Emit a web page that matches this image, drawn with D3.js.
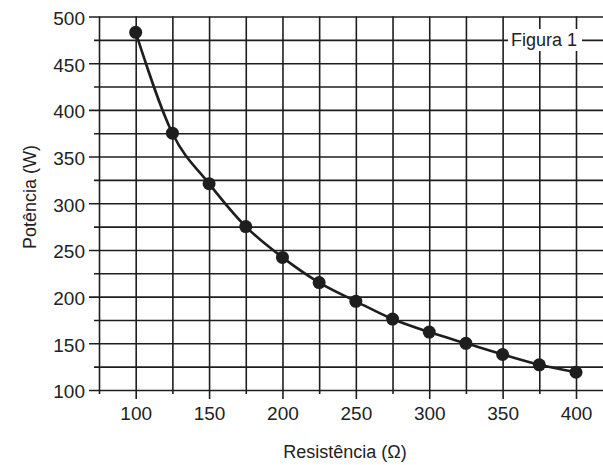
<!DOCTYPE html>
<html>
<head>
<meta charset="utf-8">
<script src="https://cdn.jsdelivr.net/npm/d3@7"></script>
<style>
  body { margin: 0; background: #fff; }
  text { font-family: "Liberation Sans", Arial, sans-serif; fill: #222; }
</style>
</head>
<body>
<div id="chart"></div>
<script>
(() => {

  // values
  let resistencia = [100, 125, 150, 175, 200, 225, 250, 275, 300, 325, 350, 375, 400]
  let potencia = [483, 375, 321, 275, 242, 215, 195, 176, 162, 150, 138, 127, 119]

  let xGrid = [75, 100, 125, 150, 175, 200, 225, 250, 275, 300, 325, 350, 375, 400]
  let xLabels = [100, 150, 200, 250, 300, 350, 400]
  let yGrid = [100, 125, 150, 175, 200, 225, 250, 275, 300, 325, 350, 375, 400, 425, 450, 475, 500]
  let yLabels = [100, 150, 200, 250, 300, 350, 400, 450, 500]

  let W = 603, H = 465
  let ink = "#1e1e1e"

  let svg = d3.select("#chart")
  .append("svg")
  .attr("width", W)
  .attr("height", H)

  let x = d3.scaleLinear()
  .domain([75, 400])
  .range([99, 576])

  let y = d3.scaleLinear()
  .domain([100, 500])
  .range([390, 16.5])

  // horizontal grid + left ticks
  let y_axis = svg.append("g")
  .attr("transform", "translate(" + x(75) + ",0)")
  .call(d3.axisLeft(y)
    .tickValues(yGrid)
    .tickSize(0)
    .tickPadding(14)
    .tickFormat(d => yLabels.includes(d) ? d : ""))

  y_axis.select(".domain").remove()
  y_axis.selectAll(".tick line")
  .attr("x1", d => yLabels.includes(d) ? -10 : -5)
  .attr("x2", W - x(75))
  .attr("stroke", ink)
  .attr("stroke-width", 1.6)
  y_axis.selectAll(".tick text")
  .attr("dy", "0.42em")
  .style("font-size", "19px")
  .style("fill", "#222")

  // vertical grid + bottom ticks
  let x_axis = svg.append("g")
  .attr("transform", "translate(0," + y(100) + ")")
  .call(d3.axisBottom(x)
    .tickValues(xGrid)
    .tickSize(0)
    .tickPadding(17)
    .tickFormat(d => xLabels.includes(d) ? d : ""))

  x_axis.select(".domain").remove()
  x_axis.selectAll(".tick line")
  .attr("y1", -(y(100) - y(500)))
  .attr("y2", d => xLabels.includes(d) ? 9 : 4)
  .attr("stroke", ink)
  .attr("stroke-width", 1.6)
  x_axis.selectAll(".tick text")
  .style("font-size", "19px")
  .style("fill", "#222")

  // "Figura 1" tag sitting on the grid
  svg.append("rect")
  .attr("x", 508)
  .attr("y", 29)
  .attr("width", 74)
  .attr("height", 22)
  .attr("fill", "#fff")

  svg.append("text")
  .attr("x", 511)
  .attr("y", 46)
  .style("font-size", "18px")
  .text("Figura 1")

  // curve
  let line = d3.line()
  .x((d, i) => x(resistencia[i]))
  .y(d => y(d))
  .curve(d3.curveMonotoneX)

  svg.append("path")
  .datum(potencia)
  .attr("d", line)
  .attr("fill", "none")
  .attr("stroke", ink)
  .attr("stroke-width", 2.6)

  svg.selectAll(".ponto")
  .data(potencia)
  .enter()
  .append("circle")
  .attr("class", "ponto")
  .attr("cx", (d, i) => x(resistencia[i]))
  .attr("cy", d => y(d))
  .attr("r", 6.5)
  .attr("fill", ink)

  // axis titles
  svg.append("text")
  .attr("x", 345)
  .attr("y", 458)
  .style("font-size", "18px")
  .style("text-anchor", "middle")
  .text("Resistência (Ω)")

  svg.append("text")
  .attr("transform", "translate(36,197) rotate(-90)")
  .style("font-size", "18px")
  .style("text-anchor", "middle")
  .text("Potência (W)")

})()
</script>
</body>
</html>
